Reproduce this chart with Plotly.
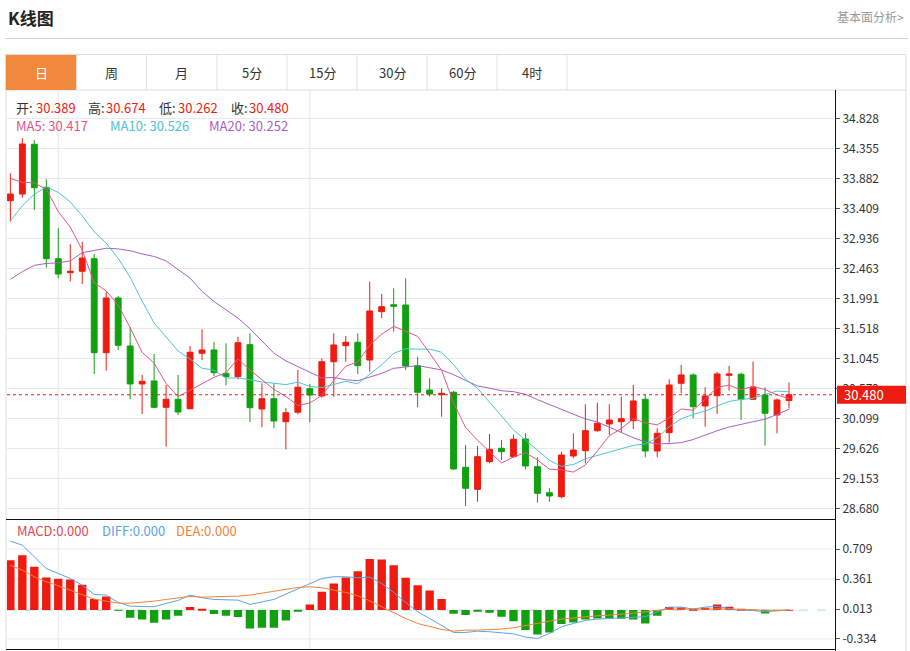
import plotly.graph_objects as go

# ---------------- data ----------------
idx = list(range(66))

opens = [33.540, 33.645, 34.429, 33.751, 32.625, 32.405, 32.427, 32.625, 31.143, 32.006,
         31.249, 30.650, 30.697, 30.282, 30.409, 30.260, 31.134, 31.186, 30.818, 30.765,
         31.270, 30.256, 30.418, 30.055, 30.204, 30.576, 30.461, 31.001, 31.254, 31.307,
         31.028, 31.790, 31.900, 31.895, 30.938, 30.555, 30.481, 30.519, 29.336, 28.989,
         29.425, 29.636, 29.504, 29.783, 29.346, 28.936, 28.873, 29.515, 29.598, 29.913,
         30.019, 30.055, 30.071, 30.409, 29.593, 29.882, 30.661, 30.792, 30.303, 30.466,
         30.787, 30.803, 30.409, 30.476, 30.161, 30.389]
highs = [33.972, 34.524, 34.497, 33.877, 33.105, 32.852, 32.893, 32.700, 32.111, 32.037,
         31.544, 30.792, 31.123, 30.634, 30.792, 31.249, 31.512, 31.312, 31.291, 31.396,
         31.449, 30.661, 30.661, 30.267, 30.871, 30.650, 31.055, 31.449, 31.407, 31.449,
         32.263, 32.069, 32.159, 32.316, 31.080, 30.740, 30.582, 30.544, 29.688, 29.672,
         29.861, 29.767, 29.851, 29.872, 29.494, 29.005, 29.583, 29.872, 30.330, 30.355,
         30.330, 30.450, 30.634, 30.487, 29.951, 30.724, 30.950, 30.818, 30.598, 30.844,
         30.934, 30.828, 31.001, 30.598, 30.420, 30.674]
lows = [33.209, 33.587, 33.393, 32.484, 32.316, 32.263, 32.226, 30.807, 30.860, 31.186,
        30.409, 30.177, 30.267, 29.661, 30.161, 30.250, 31.028, 30.776, 30.629, 30.724,
        30.051, 29.967, 29.951, 29.620, 30.172, 30.046, 30.434, 30.450, 31.001, 30.807,
        30.844, 31.686, 31.475, 30.871, 30.282, 30.450, 30.134, 29.294, 28.726, 28.794,
        29.399, 29.452, 29.488, 29.305, 28.778, 28.794, 28.848, 29.478, 29.399, 29.898,
        29.846, 29.882, 29.940, 29.494, 29.494, 29.724, 30.503, 30.109, 29.977, 30.177,
        30.544, 30.082, 30.398, 29.677, 29.872, 30.262]
closes = [33.645, 34.434, 33.745, 32.625, 32.384, 32.427, 32.636, 31.143, 32.006, 31.260,
          30.650, 30.692, 30.282, 30.409, 30.208, 31.150, 31.186, 30.828, 30.765, 31.301,
          30.276, 30.418, 30.066, 30.197, 30.598, 30.476, 31.001, 31.265, 31.307, 30.938,
          31.801, 31.869, 31.875, 30.934, 30.519, 30.492, 30.503, 29.310, 29.005, 29.504,
          29.620, 29.583, 29.778, 29.357, 28.926, 28.884, 29.530, 29.609, 29.913, 30.030,
          30.082, 30.103, 30.382, 29.593, 29.872, 30.634, 30.792, 30.292, 30.461, 30.808,
          30.808, 30.409, 30.592, 30.188, 30.398, 30.480]

ma5 = [33.89, 33.83, 33.82, 33.72, 33.367, 33.123, 32.763, 32.243, 32.119, 31.894,
       31.539, 31.150, 30.978, 30.659, 30.448, 30.548, 30.647, 30.756, 30.827, 31.046,
       30.871, 30.718, 30.565, 30.452, 30.311, 30.351, 30.468, 30.707, 30.929, 30.997,
       31.262, 31.436, 31.558, 31.483, 31.400, 31.138, 30.865, 30.352, 29.966, 29.763,
       29.588, 29.404, 29.498, 29.568, 29.453, 29.306, 29.295, 29.261, 29.372, 29.593,
       29.833, 29.947, 30.102, 30.038, 30.006, 30.117, 30.255, 30.237, 30.410, 30.597,
       30.632, 30.556, 30.616, 30.561, 30.479, 30.417]
ma10 = [33.22, 33.46, 33.64, 33.76, 33.67, 33.52, 33.30, 33.05, 32.87, 32.631,
        32.331, 31.957, 31.611, 31.389, 31.171, 31.044, 30.899, 30.867, 30.743, 30.747,
        30.710, 30.682, 30.661, 30.640, 30.679, 30.611, 30.593, 30.636, 30.691, 30.654,
        30.807, 30.952, 31.133, 31.206, 31.199, 31.200, 31.150, 30.955, 30.725, 30.581,
        30.363, 30.135, 29.925, 29.767, 29.608, 29.447, 29.350, 29.380, 29.470, 29.523,
        29.569, 29.621, 29.682, 29.705, 29.800, 29.975, 30.101, 30.169, 30.224, 30.302,
        30.375, 30.405, 30.426, 30.486, 30.538, 30.526]
ma20 = [32.30, 32.42, 32.52, 32.55, 32.56, 32.59, 32.72, 32.76, 32.79, 32.78,
        32.75, 32.70, 32.66, 32.59, 32.45, 32.32, 32.11, 31.95, 31.82, 31.689,
        31.520, 31.320, 31.136, 31.014, 30.925, 30.827, 30.746, 30.752, 30.717, 30.701,
        30.758, 30.817, 30.897, 30.923, 30.939, 30.906, 30.871, 30.796, 30.708, 30.618,
        30.585, 30.543, 30.529, 30.487, 30.403, 30.324, 30.250, 30.167, 30.098, 30.052,
        29.966, 29.878, 29.803, 29.736, 29.704, 29.711, 29.725, 29.774, 29.847, 29.912,
        29.972, 30.013, 30.054, 30.095, 30.169, 30.252]

macd_hist = [0.580, 0.638, 0.503, 0.379, 0.363, 0.356, 0.294, 0.128, 0.159, -0.003,
             -0.089, -0.108, -0.147, -0.108, -0.066, 0.035, 0.006, -0.046, -0.066, -0.081,
             -0.213, -0.205, -0.205, -0.120, -0.012, 0.066, 0.213, 0.309, 0.379, 0.452,
             0.592, 0.588, 0.522, 0.375, 0.290, 0.228, 0.128, -0.041, -0.058, -0.012,
             -0.031, -0.077, -0.128, -0.232, -0.282, -0.259, -0.162, -0.143, -0.108, -0.097,
             -0.097, -0.101, -0.108, -0.155, -0.066, 0.035, 0.031, 0.012, 0.027, 0.066,
             0.039, 0.005, 0.003, -0.039, -0.005, 0.003]
diff_line = [0.800, 0.754, 0.619, 0.483, 0.425, 0.367, 0.290, 0.182, 0.174, 0.089,
             0.046, 0.039, 0.039, 0.077, 0.112, 0.174, 0.143, 0.124, 0.116, 0.116,
             0.066, 0.097, 0.124, 0.186, 0.244, 0.302, 0.367, 0.387, 0.387, 0.375,
             0.383, 0.309, 0.205, 0.089, -0.019, -0.097, -0.174, -0.259, -0.259, -0.244,
             -0.251, -0.259, -0.275, -0.313, -0.329, -0.271, -0.193, -0.155, -0.120, -0.104,
             -0.097, -0.089, -0.089, -0.077, -0.019, 0.035, 0.035, 0.012, 0.035, 0.043,
             0.019, 0.000, -0.004, -0.019, -0.008, 0.004]
dea_line = [0.520, 0.464, 0.387, 0.329, 0.282, 0.232, 0.174, 0.128, 0.104, 0.081,
            0.081, 0.089, 0.104, 0.124, 0.143, 0.159, 0.151, 0.151, 0.159, 0.162,
            0.174, 0.197, 0.220, 0.244, 0.263, 0.271, 0.259, 0.232, 0.205, 0.166,
            0.108, 0.039, -0.031, -0.097, -0.155, -0.193, -0.224, -0.244, -0.232, -0.232,
            -0.228, -0.220, -0.205, -0.182, -0.155, -0.128, -0.104, -0.089, -0.081, -0.066,
            -0.058, -0.050, -0.035, -0.019, 0.000, 0.012, 0.012, 0.008, 0.012, 0.015,
            0.012, 0.004, 0.000, -0.004, -0.004, 0.000]

price_ticks = [34.828, 34.355, 33.882, 33.409, 32.936, 32.463, 31.991, 31.518,
               31.045, 30.572, 30.099, 29.626, 29.153, 28.680]
macd_ticks = [0.709, 0.361, 0.013, -0.334]
tabs = ["日", "周", "月", "5分", "15分", "30分", "60分", "4时"]
last_price = 30.480
month_lines = [4, 25]

# ---------------- style ----------------
W, H = 910, 651
RED = "#ef1b10"
GREEN = "#10a010"
C_MA5 = "#e5558a"
C_MA10 = "#4ec3d6"
C_MA20 = "#a860c6"
C_DIFF = "#5aa3e6"
C_DEA = "#f0843a"
FONT = "Noto Sans CJK SC, Noto Sans, sans-serif"


def px(x):
    return x / W


def py(y):
    return 1 - y / H


fig = go.Figure()

fig.add_trace(go.Candlestick(
    x=idx, open=opens, high=highs, low=lows, close=closes,
    increasing=dict(line=dict(color=RED, width=1), fillcolor=RED),
    decreasing=dict(line=dict(color=GREEN, width=1), fillcolor=GREEN),
    whiskerwidth=0, hoverinfo="none", showlegend=False, xaxis="x", yaxis="y"))

for vals, col in [(ma20, C_MA20), (ma10, C_MA10), (ma5, C_MA5)]:
    fig.add_trace(go.Scatter(x=idx, y=vals, mode="lines", line=dict(color=col, width=1),
                             hoverinfo="none", showlegend=False, xaxis="x", yaxis="y"))

fig.add_trace(go.Bar(x=idx, y=macd_hist, width=0.7,
                     marker=dict(color=[RED if v >= 0 else GREEN for v in macd_hist], line=dict(width=0)),
                     hoverinfo="none", showlegend=False, xaxis="x", yaxis="y2"))
fig.add_trace(go.Scatter(x=idx, y=diff_line, mode="lines", line=dict(color=C_DIFF, width=1),
                         hoverinfo="none", showlegend=False, xaxis="x", yaxis="y2"))
fig.add_trace(go.Scatter(x=idx, y=dea_line, mode="lines", line=dict(color=C_DEA, width=1),
                         hoverinfo="none", showlegend=False, xaxis="x", yaxis="y2"))

shapes = []
# title separator
shapes.append(dict(type="line", xref="paper", yref="paper", x0=px(5), x1=px(908), y0=py(38.5), y1=py(38.5),
                   line=dict(color="#d6d6d6", width=1)))
# tab row
shapes.append(dict(type="rect", xref="paper", yref="paper", x0=px(5.5), x1=px(906), y0=py(90), y1=py(54.5),
                   line=dict(color="#dedede", width=1)))
shapes.append(dict(type="rect", xref="paper", yref="paper", x0=px(6), x1=px(76.5), y0=py(90), y1=py(55),
                   fillcolor="#f0893b", line=dict(width=0)))
tab_edges = [76.7, 146.5, 216.9, 287, 357, 427, 497, 567]
for xe in tab_edges:
    shapes.append(dict(type="line", xref="paper", yref="paper", x0=px(xe), x1=px(xe), y0=py(90), y1=py(54.5),
                       line=dict(color="#e2e2e2", width=1)))
# chart border
shapes.append(dict(type="line", xref="paper", yref="paper", x0=px(6), x1=px(6), y0=py(651), y1=py(90),
                   line=dict(color="#dcdcdc", width=1)))
shapes.append(dict(type="line", xref="paper", yref="paper", x0=px(906), x1=px(906), y0=py(651), y1=py(90),
                   line=dict(color="#dcdcdc", width=1)))
# vertical month grid lines
for m in month_lines:
    shapes.append(dict(type="line", xref="x", yref="paper", x0=m, x1=m, y0=py(649), y1=py(90),
                       line=dict(color="#e3e7ec", width=1), layer="below"))
# macd grid lines
for t in [0.709, 0.361, -0.334]:
    shapes.append(dict(type="line", xref="paper", yref="y2", x0=px(7), x1=px(835), y0=t, y1=t,
                       line=dict(color="#e9e9e9", width=1), layer="below"))
# macd zero line
shapes.append(dict(type="line", xref="paper", yref="y2", x0=px(7), x1=px(835), y0=0, y1=0,
                   line=dict(color="#b9d3ea", width=1, dash="dash"), layer="below"))
# black frame lines
shapes.append(dict(type="line", xref="paper", yref="paper", x0=px(6), x1=px(836), y0=py(519.5), y1=py(519.5),
                   line=dict(color="#111", width=1.2)))
shapes.append(dict(type="line", xref="paper", yref="paper", x0=px(6), x1=px(836), y0=py(649.5), y1=py(649.5),
                   line=dict(color="#111", width=1.2)))
shapes.append(dict(type="line", xref="paper", yref="paper", x0=px(835.5), x1=px(835.5), y0=py(651), y1=py(90),
                   line=dict(color="#111", width=1)))
# current price line and label
shapes.append(dict(type="line", xref="paper", yref="y", x0=px(7), x1=px(835), y0=last_price, y1=last_price,
                   line=dict(color=RED, width=1, dash="dot")))
shapes.append(dict(type="rect", xref="paper", yref="y", x0=px(837), x1=px(906),
                   y0=last_price - 0.142, y1=last_price + 0.142, fillcolor="#ee1c0e", line=dict(width=0)))

ann = []


def text(x, y, s, color="#333", size=13, anchor="left"):
    ann.append(dict(x=px(x), y=py(y), xref="paper", yref="paper", text=s, showarrow=False,
                    xanchor=anchor, yanchor="middle", font=dict(family=FONT, size=size, color=color)))


text(6, 18, "<b>K线图</b>", "#222", 17)
text(906, 17, "基本面分析>", "#9a9a9a", 12, "right")
tab_centers = [41.5, 111.5, 181.5, 252, 322, 392, 462, 532]
for t, c in zip(tabs, tab_centers):
    text(c, 72.5, t, "#ffffff" if t == "日" else "#333", 13, "center")

# OHLC line
text(14, 107, "开:", "#333", 13)
text(34, 107, f"{opens[-1]:.3f}", RED, 13)
text(86, 107, "高:", "#333", 13)
text(104, 107, f"{highs[-1]:.3f}", RED, 13)
text(157, 107, "低:", "#333", 13)
text(176, 107, f"{lows[-1]:.3f}", RED, 13)
text(229, 107, "收:", "#333", 13)
text(247, 107, f"{closes[-1]:.3f}", RED, 13)
text(14, 125.5, f"MA5: {ma5[-1]:.3f}", C_MA5, 13)
text(108, 125.5, f"MA10: {ma10[-1]:.3f}", C_MA10, 13)
text(207, 125.5, f"MA20: {ma20[-1]:.3f}", C_MA20, 13)

text(15, 530, "MACD:0.000", "#e0484f", 13)
text(100, 530, "DIFF:0.000", C_DIFF, 13)
text(174, 530, "DEA:0.000", C_DEA, 13)

ann.append(dict(x=px(842), y=last_price, xref="paper", yref="y", text=f"{last_price:.3f}", showarrow=False,
                xanchor="left", yanchor="middle", font=dict(family=FONT, size=13, color="white")))

fig.update_layout(
    width=W, height=H, margin=dict(l=0, r=0, t=0, b=0),
    paper_bgcolor="white", plot_bgcolor="white",
    font=dict(family=FONT, size=12, color="#333"),
    showlegend=False, hovermode=False, boxgap=0.3,
    xaxis=dict(domain=[px(7), px(835)], range=[-0.28, 68.84], showticklabels=False, showgrid=False,
               zeroline=False, showline=False, ticks="", rangeslider=dict(visible=False), fixedrange=True),
    yaxis=dict(domain=[py(519), py(90)], range=[28.521, 35.285], side="right", anchor="x",
               tickvals=price_ticks, ticktext=[f"{v:.3f}" for v in price_ticks],
               ticks="outside", ticklen=4, tickcolor="#555", tickfont=dict(size=12, color="#333"),
               showgrid=True, gridcolor="#e9e9e9", zeroline=False, showline=False, fixedrange=True),
    yaxis2=dict(domain=[py(649), py(519.7)], range=[-0.451, 1.049], side="right", anchor="x",
                tickvals=macd_ticks, ticktext=[f"{v:.3f}" for v in macd_ticks],
                ticks="outside", ticklen=4, tickcolor="#555", tickfont=dict(size=12, color="#333"),
                showgrid=False, zeroline=False, showline=False, fixedrange=True),
    shapes=shapes, annotations=ann,
)

fig.write_html("out.html", config={"displayModeBar": False},
               post_script="document.body.style.margin='0';")
